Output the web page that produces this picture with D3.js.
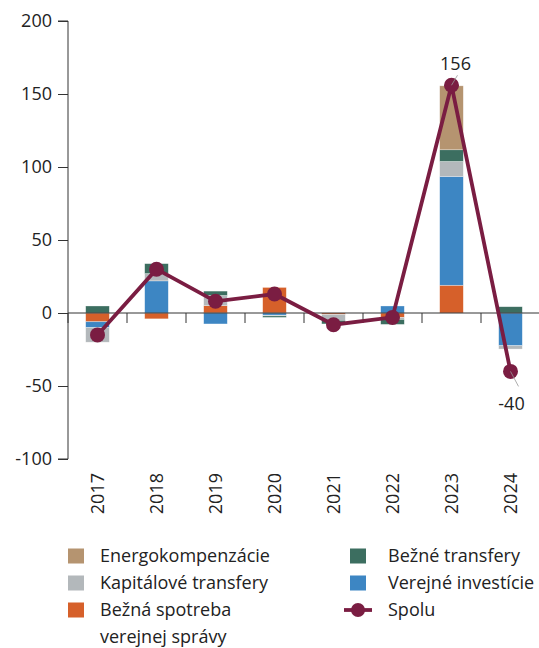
<!DOCTYPE html>
<html>
<head>
<meta charset="utf-8">
<style>
  body { margin: 0; background: #fff; }
  svg { display: block; font-family: "Open Sans", sans-serif; }
</style>
</head>
<body>
<svg width="539" height="648"></svg>
<script src="https://d3js.org/d3.v7.min.js"></script>
<script>

var years = ["2017", "2018", "2019", "2020", "2021", "2022", "2023", "2024"];

// components, in stacking order
var spotreba    = [-6, -4, 5, 17.5, -1, -3, 19, 0];
var investicie  = [-4, 22, -7.5, -1.5, 0, 4.8, 74.5, -22.4];
var kapitalove  = [-10, 5, 7, -0.5, -4, -1.4, 10.3, -2.3];
var bezneTransf = [4.8, 6.8, 3, -1, -2.5, -3.4, 8, 4.3];
var energo      = [0, 0, 0, 0, 0, 0, 43.8, 0];
var spolu       = [-15, 30, 8, 13, -8, -3, 156, -40];

var yTicks = [-100, -50, 0, 50, 100, 150, 200];

var series = [
  { key: "spotreba", name: "Bežná spotreba verejnej správy", values: spotreba, color: "#d6602a" },
  { key: "investicie", name: "Verejné investície", values: investicie, color: "#3d86c3" },
  { key: "kapitalove", name: "Kapitálové transfery", values: kapitalove, color: "#b3b8bb" },
  { key: "bezne", name: "Bežné transfery", values: bezneTransf, color: "#3c6e60" },
  { key: "energo", name: "Energokompenzácie", values: energo, color: "#b59470" }
];
var lineColor = "#7a1d42";

var table = years.map(function(y, i) {
  var row = { year: y };
  series.forEach(function(s) { row[s.key] = s.values[i]; });
  return row;
});

var svg = d3.select("svg");

var x = d3.scaleBand().domain(years).range([68, 540]).paddingInner(0.6).paddingOuter(0.3);
var y = d3.scaleLinear().domain([-100, 200]).range([459, 21]);

var stack = d3.stack()
    .keys(series.map(function(s) { return s.key; }))
    .offset(d3.stackOffsetDiverging);

var layers = stack(table);

// y axis
var yAxis = svg.append("g")
    .attr("transform", "translate(68,0)")
    .call(d3.axisLeft(y).tickValues(yTicks).tickSize(10).tickPadding(6)
      .tickFormat(function(d) { return String(d); }));
yAxis.select(".domain").attr("stroke", "#333").attr("d", "M-10," + y(-100) + "H0V" + y(200) + "H-10");
yAxis.selectAll(".tick line").attr("stroke", "#333");
yAxis.selectAll("text").attr("font-size", 18).attr("fill", "#222")
    .attr("font-family", "Open Sans, sans-serif");

// bars
svg.append("g").selectAll("g")
  .data(layers)
  .join("g")
    .attr("fill", function(d, i) { return series[i].color; })
  .selectAll("rect")
  .data(function(d) { return d; })
  .join("rect")
    .attr("x", function(d) { return x(d.data.year); })
    .attr("width", x.bandwidth())
    .attr("y", function(d) { return y(Math.max(d[0], d[1])); })
    .attr("height", function(d) { return Math.abs(y(d[0]) - y(d[1])); })
    .attr("stroke", "#fff")
    .attr("stroke-opacity", 0.5)
    .attr("stroke-width", 0.6);

// x axis (zero line, boundary ticks)
var gap = (x.step() - x.bandwidth()) / 2;
var xg = svg.append("g");
xg.append("line")
    .attr("x1", 68).attr("x2", 539)
    .attr("y1", y(0)).attr("y2", y(0))
    .attr("stroke", "#333");
xg.selectAll(".bt")
  .data(years)
  .join("line")
    .attr("class", "bt")
    .attr("x1", function(d) { return x(d) - gap; })
    .attr("x2", function(d) { return x(d) - gap; })
    .attr("y1", y(0)).attr("y2", y(0) + 10)
    .attr("stroke", "#333");

var xAxis = svg.append("g")
    .attr("transform", "translate(0,464)")
    .call(d3.axisBottom(x).tickSize(0).tickPadding(8));
xAxis.select(".domain").remove();
xAxis.selectAll("text")
    .attr("font-size", 18).attr("fill", "#222")
    .attr("font-family", "Open Sans, sans-serif")
    .attr("transform", "rotate(-90)")
    .attr("text-anchor", "end")
    .attr("x", -9).attr("y", 0).attr("dy", "0.35em");

// total line
var line = d3.line()
    .x(function(d, i) { return x(years[i]) + x.bandwidth() / 2; })
    .y(function(d) { return y(d); });

svg.append("path")
    .datum(spolu)
    .attr("d", line)
    .attr("fill", "none")
    .attr("stroke", lineColor)
    .attr("stroke-width", 3.8);

svg.append("g").selectAll("circle")
  .data(spolu)
  .join("circle")
    .attr("cx", function(d, i) { return x(years[i]) + x.bandwidth() / 2; })
    .attr("cy", function(d) { return y(d); })
    .attr("r", 7.5)
    .attr("fill", lineColor);

// labels for 2023 and 2024
var labels = [
  { i: 6, dx: 6, dy: -10, tx: 4, ty: -15 },
  { i: 7, dx: 8, dy: 15, tx: 1, ty: 39 }
];
labels.forEach(function(l) {
  var cx = x(years[l.i]) + x.bandwidth() / 2, cy = y(spolu[l.i]);
  svg.append("line")
      .attr("x1", cx).attr("y1", cy)
      .attr("x2", cx + l.dx).attr("y2", cy + l.dy)
      .attr("stroke", "#999").attr("stroke-width", 0.8);
  svg.append("text")
      .attr("x", cx + l.tx).attr("y", cy + l.ty)
      .attr("text-anchor", "middle")
      .attr("font-size", 18).attr("fill", "#222")
      .text(spolu[l.i]);
});

// legend
var legendItems = [
  { col: 0, row: 0, name: ["Energokompenzácie"], color: series[4].color },
  { col: 0, row: 1, name: ["Kapitálové transfery"], color: series[2].color },
  { col: 0, row: 2, name: ["Bežná spotreba", "verejnej správy"], color: series[0].color },
  { col: 1, row: 0, name: ["Bežné transfery"], color: series[3].color },
  { col: 1, row: 1, name: ["Verejné investície"], color: series[1].color },
  { col: 1, row: 2, name: ["Spolu"], line: true }
];
var colX = [68, 350], textOff = [32, 38], rowY = 556, rowH = 27;

var lg = svg.append("g");
legendItems.forEach(function(it) {
  var gx = colX[it.col], gy = rowY + it.row * rowH;
  if (it.line) {
    lg.append("line").attr("x1", gx - 6).attr("x2", gx + 22)
        .attr("y1", gy).attr("y2", gy)
        .attr("stroke", lineColor).attr("stroke-width", 3.8);
    lg.append("circle").attr("cx", gx + 8).attr("cy", gy).attr("r", 7).attr("fill", lineColor);
  } else {
    lg.append("rect").attr("x", gx).attr("y", gy - 7.5)
        .attr("width", 16).attr("height", 15).attr("fill", it.color);
  }
  it.name.forEach(function(t, k) {
    lg.append("text")
        .attr("x", gx + textOff[it.col]).attr("y", gy + k * rowH)
        .attr("dy", "0.36em")
        .attr("font-size", 18).attr("fill", "#222")
        .text(t);
  });
});

</script>
</body>
</html>
